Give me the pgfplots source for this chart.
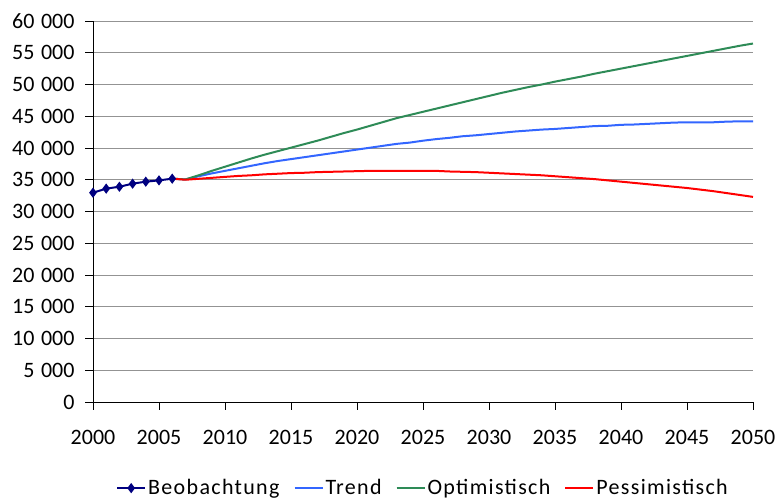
\documentclass[border=0pt]{standalone}
\usepackage{pgfplots}
\pgfplotsset{compat=1.18}
\usepackage{fontspec}
\setmainfont{Carlito}
\newfontfamily\legfont[LetterSpace=6]{Carlito}
\definecolor{obs}{RGB}{0,0,128}
\definecolor{trend}{RGB}{51,102,255}
\definecolor{opt}{RGB}{46,139,87}
\definecolor{pes}{RGB}{255,0,0}
\begin{document}
\begin{tikzpicture}
\useasboundingbox (-93pt,-100pt) rectangle (685pt,402pt);
\begin{axis}[
  at={(0pt,0pt)}, anchor=south west,
  scale only axis, width=660pt, height=381pt,
  xmin=2000, xmax=2050, ymin=0, ymax=60000,
  xtick={2000,2005,...,2050}, ytick={0,5000,...,60000},
  axis x line=bottom, axis y line=left,
  axis line style={-, black, line width=0.8pt},
  tick align=outside, major tick length=8pt,
  tick style={black, line width=0.8pt},
  ymajorgrids, grid style={gray!85, line width=0.8pt},
  font=\fontsize{22}{26}\selectfont,
  /pgf/number format/assume math mode=true,
  xticklabel style={/pgf/number format/1000 sep={}, yshift=-17pt},
  yticklabel style={/pgf/number format/1000 sep={\hspace{0.3em}}, xshift=-7pt},
  scaled y ticks=false,
  legend columns=4,
  legend style={draw=none, at={(0.5,-0.226)}, anchor=center, font=\legfont\fontsize{22}{26}\selectfont,
    /tikz/every even column/.append style={column sep=12pt},
    /tikz/every odd column/.append style={column sep=0pt}},
  legend image code/.code={\draw[mark repeat=2, mark phase=2, #1] plot coordinates {(0pt,0pt) (14pt,0pt) (28pt,0pt)};},
]
\addplot[obs, line width=2pt, mark=diamond*, mark size=3.5pt] coordinates {
(2000,32960) (2001,33600) (2002,33900) (2003,34380) (2004,34700) (2005,34900) (2006,35170)};
\addlegendentry{Beobachtung}
\addplot[trend, line width=2pt] coordinates {
(2006,35170) (2007,35050) (2008,35550) (2009,36000) (2010,36400) (2011,36800) (2012,37200)
(2013,37600) (2014,37950) (2015,38250) (2016,38550) (2017,38850) (2018,39150) (2019,39450)
(2020,39750) (2021,40050) (2022,40350) (2023,40650) (2024,40850) (2025,41150) (2026,41400)
(2027,41600) (2028,41850) (2029,42000) (2030,42200) (2031,42400) (2032,42600) (2033,42750)
(2034,42900) (2035,43000) (2036,43150) (2037,43300) (2038,43450) (2039,43500) (2040,43650)
(2041,43700) (2042,43800) (2043,43900) (2044,44000) (2045,44050) (2046,44050) (2047,44050)
(2048,44150) (2049,44200) (2050,44200)};
\addlegendentry{Trend}
\addplot[opt, line width=2pt] coordinates {
(2006,35170) (2007,35050) (2008,35700) (2009,36400) (2010,37050) (2011,37700) (2012,38350)
(2013,38950) (2014,39500) (2015,40050) (2016,40600) (2017,41150) (2018,41750) (2019,42350)
(2020,42900) (2021,43500) (2022,44100) (2023,44700) (2024,45200) (2025,45700) (2026,46200)
(2027,46700) (2028,47200) (2029,47700) (2030,48200) (2031,48700) (2032,49150) (2033,49600)
(2034,50000) (2035,50450) (2036,50850) (2037,51250) (2038,51700) (2039,52100) (2040,52500)
(2041,52900) (2042,53300) (2043,53700) (2044,54100) (2045,54500) (2046,54900) (2047,55300)
(2048,55700) (2049,56100) (2050,56450)};
\addlegendentry{Optimistisch}
\addplot[pes, line width=2pt] coordinates {
(2006,35170) (2007,35000) (2008,35150) (2009,35300) (2010,35450) (2011,35600) (2012,35700)
(2013,35850) (2014,35950) (2015,36050) (2016,36100) (2017,36200) (2018,36250) (2019,36300)
(2020,36350) (2021,36400) (2022,36400) (2023,36400) (2024,36400) (2025,36400) (2026,36400)
(2027,36300) (2028,36250) (2029,36200) (2030,36100) (2031,36000) (2032,35900) (2033,35800)
(2034,35700) (2035,35550) (2036,35400) (2037,35250) (2038,35100) (2039,34900) (2040,34700)
(2041,34500) (2042,34300) (2043,34100) (2044,33900) (2045,33700) (2046,33450) (2047,33200)
(2048,32900) (2049,32600) (2050,32300)};
\addlegendentry{Pessimistisch}
\end{axis}
\end{tikzpicture}
\end{document}
